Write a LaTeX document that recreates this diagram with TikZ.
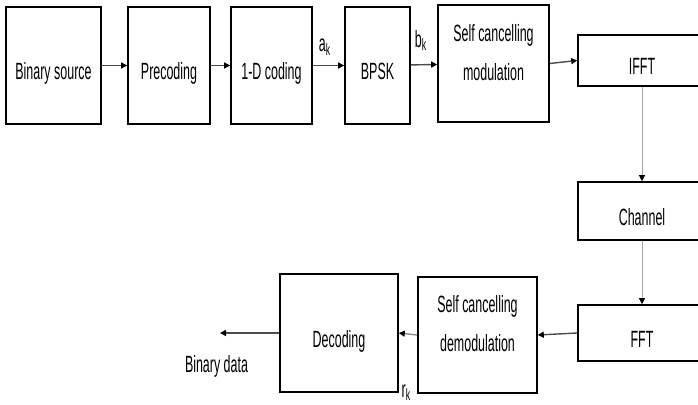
\documentclass[tikz,border=0pt]{standalone}
\usepackage{fontspec}
\setmainfont{Liberation Sans}[FakeStretch=0.53]
\usetikzlibrary{arrows.meta}
\begin{document}
\begin{tikzpicture}[x=1pt,y=-1pt,
  blk/.style={draw=black,line width=1.6pt,inner sep=0pt,font=\fontsize{23.5}{39}\selectfont,text height=30pt,text depth=2pt},
  two/.style={align=center,font=\fontsize{23.5}{39}\selectfont,inner sep=0pt},
  conn/.style={draw=black!70,line width=1.4pt,-{Triangle[length=6pt,width=6pt,black]}},
  vconn/.style={draw=black!35,line width=1pt,-{Triangle[length=6pt,width=6pt,black]}},
  lab/.style={font=\fontsize{23.5}{26}\selectfont,inner sep=0pt}]
\clip (0,0) rectangle (698,404);
% top row
\node[blk,minimum width=95pt,minimum height=117pt] (src) at (53.5,65.5) {Binary source};
\node[blk,minimum width=82pt,minimum height=117pt] (pre) at (169,65.5) {Precoding};
\node[blk,minimum width=81pt,minimum height=117pt] (cod) at (271.5,65.5) {1-D coding};
\node[blk,minimum width=65pt,minimum height=117pt] (bpsk) at (377.5,65.5) {BPSK};
\node[blk,minimum width=111pt,minimum height=117pt,
  label={[two,yshift=11pt]center:{Self cancelling\\modulation}}] (scm) at (493.5,63.5) {};
% right column
\node[blk,minimum width=128pt,minimum height=51pt] (ifft) at (642,60.5) {IFFT};
\node[blk,minimum width=128pt,minimum height=58pt] (chan) at (642,211) {Channel};
\node[blk,minimum width=128pt,minimum height=56pt] (fft) at (642,333) {FFT};
% bottom row
\node[blk,minimum width=119pt,minimum height=116pt,
  label={[two,yshift=11pt]center:{Self cancelling\\demodulation}}] (scd) at (477.5,335) {};
\node[blk,minimum width=118pt,minimum height=118pt] (dec) at (339,333) {Decoding};
\coordinate (out) at (220,333);
\node[lab] (bdata) at (216.5,366) {Binary data};
% connectors
\draw[conn] (src) -- (pre);
\draw[conn] (pre) -- (cod);
\draw[conn] (cod) -- (bpsk);
\draw[conn] (bpsk) -- (scm);
\draw[conn] (scm.east) -- (ifft.west);
\draw[vconn] (ifft) -- (chan);
\draw[vconn] (chan) -- (fft);
\draw[conn] (fft.west) -- (scd.east);
\draw[conn,draw=black!45] (scd.west) -- (dec.east);
\draw[conn] (dec.west) -- (out);
% signal labels
\node[lab] (ak) at ([xshift=12pt,yshift=18pt]cod.east) {a\textsubscript{k}};
\node[lab] (bk) at ([xshift=10pt,yshift=25pt]bpsk.east) {b\textsubscript{k}};
\node[lab] (rk) at ([xshift=-11pt,yshift=1pt]scd.south west) {r\textsubscript{k}};
\end{tikzpicture}
\end{document}
